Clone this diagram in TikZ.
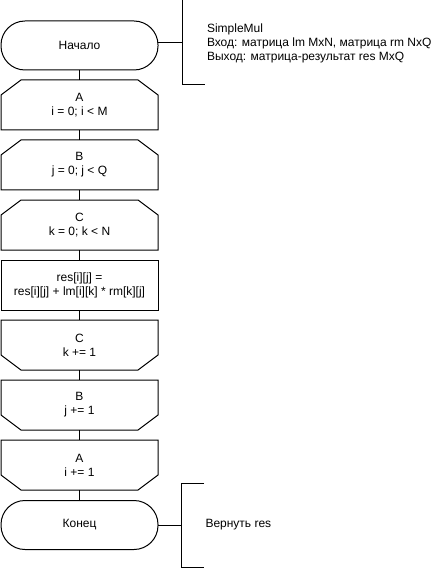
\documentclass[tikz,border=0pt]{standalone}
\usepackage{fontspec}
\setmainfont{Liberation Sans}
\usetikzlibrary{positioning}
% loop limit outlines: cut corners on top (open) or bottom (close)
\newcommand{\looptop}[1]{\draw (#1.south west) -- (#1.south east) -- ([yshift=-15pt]#1.north east) -- ([xshift=-20pt]#1.north east) -- ([xshift=20pt]#1.north west) -- ([yshift=-15pt]#1.north west) -- cycle;}
\newcommand{\loopbot}[1]{\draw (#1.north west) -- (#1.north east) -- ([yshift=15pt]#1.south east) -- ([xshift=-20pt]#1.south east) -- ([xshift=20pt]#1.south west) -- ([yshift=15pt]#1.south west) -- cycle;}

\begin{document}
\begin{tikzpicture}[x=1pt,y=-1pt,line width=1pt,
  every node/.style={font=\fontsize{12}{14}\selectfont,align=center},
  blk/.style={minimum width=157pt,minimum height=50pt,inner sep=0pt,outer sep=0pt},
  term/.style={blk,draw,rounded corners=24pt,minimum height=49pt},
  proc/.style={blk,draw},
  note/.style={anchor=west,align=left,inner sep=0pt}]
\useasboundingbox (0,0) rectangle (431,569);

\node[term] (start) at (79.5,45.5) {Начало};
\node[blk] (forA) at (79.5,105) {A\\i = 0; i < M};
\node[blk] (forB) at (79.5,165) {B\\j = 0; j < Q};
\node[blk] (forC) at (79.5,225) {C\\k = 0; k < N};
\node[proc] (body) at (79.5,285) {res[i][j] =\\res[i][j] + lm[i][k] * rm[k][j]};
\node[blk] (endC) at (79.5,345) {C\\k += 1};
\node[blk] (endB) at (79.5,405) {B\\j += 1};
\node[blk] (endA) at (79.5,465) {A\\i += 1};
\node[term] (stop) at (79.5,525) {Конец};

\looptop{forA}
\looptop{forB}
\looptop{forC}
\loopbot{endC}
\loopbot{endB}
\loopbot{endA}

\draw (start) -- (forA);
\draw (forA) -- (forB);
\draw (forB) -- (forC);
\draw (forC) -- (body);
\draw (body) -- (endC);
\draw (endC) -- (endB);
\draw (endB) -- (endA);
\draw (endA) -- (stop);

% comments
\coordinate (c1) at (182.5,42.5);
\draw (start.east |- c1) -- (c1);
\draw (205,0) -- (182.5,0) -- (182.5,85) -- (205,85);
\node[note] (info) at (206.5,43.5) {SimpleMul\\Вход: матрица lm MxN, матрица rm NxQ\\Выход: матрица-результат res MxQ};

\coordinate (c2) at (181.5,525);
\draw (stop.east) -- (c2);
\draw (204,483) -- (181.5,483) -- (181.5,567) -- (204,567);
\node[note] (ret) at (205,525) {Вернуть res};
\end{tikzpicture}
\end{document}
